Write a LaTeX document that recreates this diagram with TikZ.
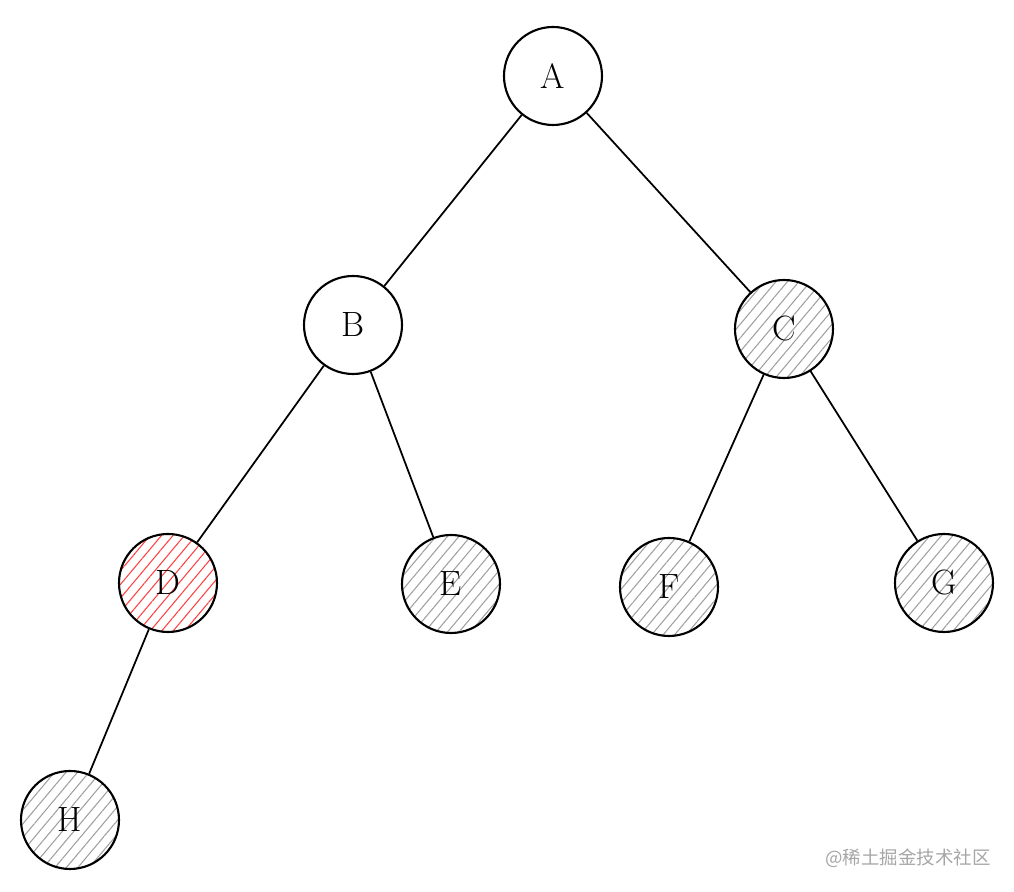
\documentclass[tikz,border=0pt]{standalone}
\usepackage{fontspec}
\newfontfamily\cjkfont{Noto Sans CJK SC}
\usetikzlibrary{patterns, patterns.meta}
\usetikzlibrary{positioning, calc, arrows.meta}

\begin{document}
\begin{tikzpicture}[
    vertex/.style={circle, draw=black, line width=1.2pt, minimum size=1.96cm, inner sep=0pt, font=\fontsize{20}{24}\selectfont},
    visited/.style={vertex, pattern={Lines[angle=50, distance=5pt, line width=0.6pt]}, pattern color=gray!75},
    current/.style={vertex, pattern={Lines[angle=50, distance=5pt, line width=0.6pt]}, pattern color=red!75},
    edge/.style={line width=1pt}
]

    % Frame
    \useasboundingbox (0,0) rectangle (20.28,17.84);

    % ================= Nodes =================
    \node[vertex]  (A) at (11.06,16.32) {A};
    \node[vertex]  (B) at (7.06,11.34)  {B};
    \node[visited] (C) at (15.68,11.26) {C};
    \node[current] (D) at (3.36,6.18)   {D};
    \node[visited] (E) at (9.02,6.16)   {E};
    \node[visited] (F) at (13.38,6.10)  {F};
    \node[visited] (G) at (18.88,6.18)  {G};
    \node[visited] (H) at (1.40,1.44)   {H};

    % ================= Edges =================
    \draw[edge] (A) -- (B);
    \draw[edge] (A) -- (C);
    \draw[edge] (B) -- (D);
    \draw[edge] (B) -- (E);
    \draw[edge] (C) -- (F);
    \draw[edge] (C) -- (G);
    \draw[edge] (D) -- (H);

    % Watermark
    \node[gray!70, font=\cjkfont\fontsize{10.5}{12}\selectfont] (mark) at (18.16,0.68) {@稀土掘金技术社区};

\end{tikzpicture}
\end{document}
